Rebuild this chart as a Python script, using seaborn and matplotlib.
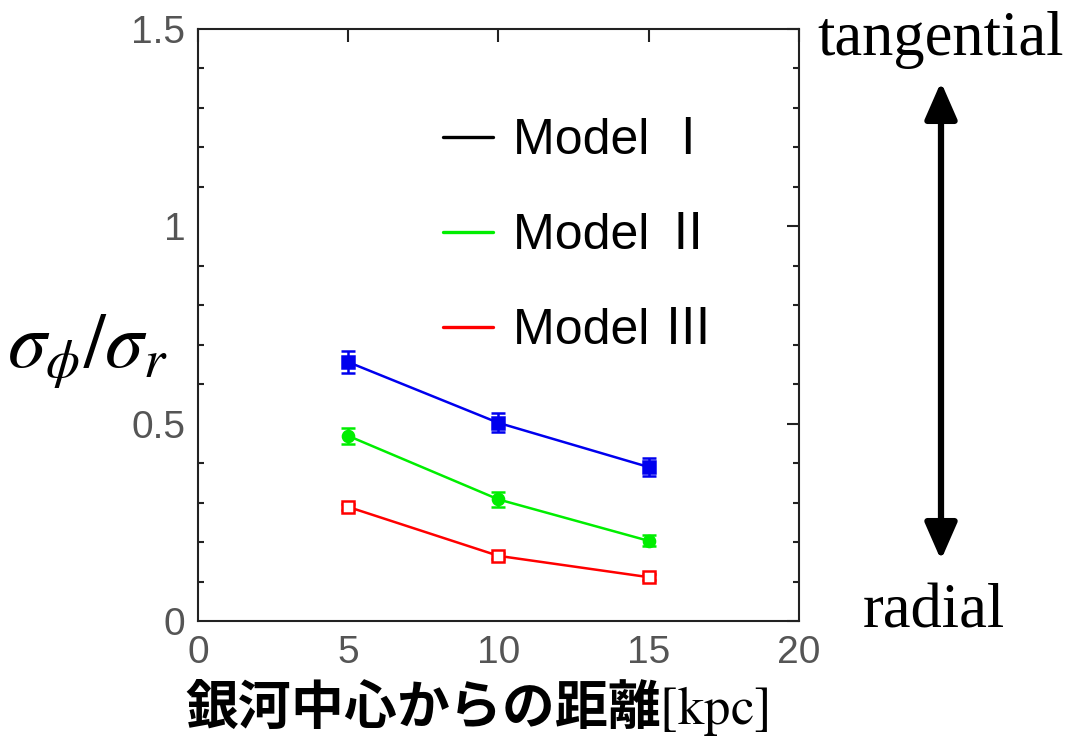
import matplotlib
matplotlib.use("Agg")
import matplotlib.pyplot as plt
from matplotlib.lines import Line2D
import seaborn as sns
import pandas as pd
import numpy as np

# ---- data ----
radius = [5, 10, 15]
model1 = [0.656, 0.502, 0.390]
model1_err = [0.027, 0.024, 0.023]
model2 = [0.469, 0.308, 0.203]
model2_err = [0.021, 0.020, 0.014]
model3 = [0.289, 0.165, 0.111]
model3_err = [0.008, 0.008, 0.008]
legend_labels = ["Model Ⅰ", "Model Ⅱ", "Model Ⅲ"]
legend_colors = ["black", "#00ee00", "red"]
series_colors = ["#0000ee", "#00ee00", "#ff0000"]
x_ticks = [0, 5, 10, 15, 20]
y_ticks = [0, 0.5, 1, 1.5]
y_tick_labels = ["0", "0.5", "1", "1.5"]

sns.set_theme(style="white")
plt.rcParams["font.family"] = ["Liberation Sans", "Noto Sans CJK JP", "DejaVu Sans"]
plt.rcParams["mathtext.fontset"] = "stix"

fig = plt.figure(figsize=(10.73, 7.39), dpi=100)
ax = fig.add_axes([0.1845, 0.1597, 0.5601, 0.8011])

df = pd.DataFrame({
    "r": radius * 3,
    "v": model1 + model2 + model3,
    "model": ["I"] * 3 + ["II"] * 3 + ["III"] * 3,
})
sns.lineplot(data=df, x="r", y="v", hue="model", palette=series_colors,
             legend=False, ax=ax, linewidth=1.8)

markers = ["s", "o", "s"]
fills = [True, True, False]
for vals, errs, c, m, f in zip([model1, model2, model3],
                               [model1_err, model2_err, model3_err],
                               series_colors, markers, fills):
    ax.errorbar(radius, vals, yerr=errs, fmt=m, color=c, ms=8,
                mfc=c if f else "white", mec=c, mew=1.8,
                elinewidth=1.8, capsize=5, capthick=1.8, zorder=3)

ax.set_xlim(0, 20)
ax.set_ylim(0, 1.5)
ax.set_xticks(x_ticks)
ax.set_yticks(y_ticks)
ax.set_yticklabels(y_tick_labels)
ax.set_yticks(np.arange(0, 1.51, 0.1), minor=True)
ax.set_xlabel("")
ax.set_ylabel("")

for s in ax.spines.values():
    s.set_color("#222222")
    s.set_linewidth(1.5)
ax.tick_params(axis="both", which="major", direction="in", top=True, right=True,
               length=9, width=1.5, color="#222222", labelsize=28,
               labelcolor="#555555")
ax.tick_params(axis="y", which="minor", direction="in", left=True, right=True,
               length=4, width=1.5, color="#222222")
ax.tick_params(axis="x", which="major", pad=10)
ax.tick_params(axis="y", which="major", pad=9)

handles = [Line2D([0], [0], color=c, lw=2.4) for c in legend_colors]
leg = ax.legend(handles, legend_labels, loc="upper left",
                bbox_to_anchor=(443 / 1073, 1 - 118 / 739),
                bbox_transform=fig.transFigure, frameon=False,
                fontsize=36, handlelength=1.0, handletextpad=0.4,
                labelspacing=0.98, borderpad=0, borderaxespad=0)
for t in leg.get_texts():
    t.set_color("black")

fig.text(88 / 1073, 1 - 352 / 739, r"$\sigma_\phi/\sigma_r$", fontsize=56,
         ha="center", va="center", color="black")

fig.text(185 / 1073, 1 - 708 / 739, "銀河中心からの距離$\\mathrm{[kpc]}$",
         fontsize=38, fontweight="bold", ha="left", va="center", color="black",
         family=["Noto Sans CJK JP", "DejaVu Sans"])

fig.text(941 / 1073, 1 - 40 / 739, "tangential", fontsize=45, color="black",
         family="Liberation Serif", ha="center", va="center")
fig.text(934 / 1073, 1 - 612 / 739, "radial", fontsize=45, color="black",
         family="Liberation Serif", ha="center", va="center")

fig.patches.append(matplotlib.patches.FancyArrowPatch(
    (941 / 1073, 1 - 82 / 739), (941 / 1073, 1 - 560 / 739),
    transform=fig.transFigure, arrowstyle="<|-|>,head_length=1.6,head_width=0.7",
    mutation_scale=14, color="black", lw=4.5, shrinkA=0, shrinkB=0))

fig.savefig("out.png", dpi=100)
